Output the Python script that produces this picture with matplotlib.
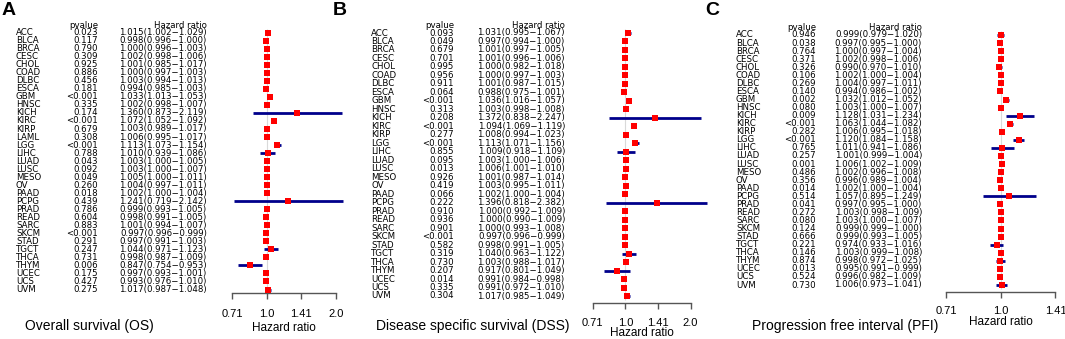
import numpy as np
import matplotlib
matplotlib.use('Agg')
import matplotlib.pyplot as plt
import matplotlib.transforms as mtransforms
from matplotlib.ticker import FixedLocator, NullLocator, FixedFormatter

plt.rcParams['font.family'] = ['Liberation Sans', 'DejaVu Sans']

# ---------------- data ----------------
os_cancers = ['ACC', 'BLCA', 'BRCA', 'CESC', 'CHOL', 'COAD', 'DLBC', 'ESCA', 'GBM', 'HNSC', 'KICH',
              'KIRC', 'KIRP', 'LAML', 'LGG', 'LIHC', 'LUAD', 'LUSC', 'MESO', 'OV', 'PAAD', 'PCPG',
              'PRAD', 'READ', 'SARC', 'SKCM', 'STAD', 'TGCT', 'THCA', 'THYM', 'UCEC', 'UCS', 'UVM']
os_pvalue = ['0.023', '0.117', '0.790', '0.309', '0.925', '0.886', '0.456', '0.181', '<0.001', '0.335',
             '0.174', '<0.001', '0.679', '0.308', '<0.001', '0.788', '0.043', '0.092', '0.049', '0.260',
             '0.018', '0.439', '0.786', '0.604', '0.883', '<0.001', '0.291', '0.247', '0.731', '0.006',
             '0.175', '0.427', '0.275']
os_hr = [1.015, 0.998, 1.000, 1.002, 1.001, 1.000, 1.003, 0.994, 1.033, 1.002, 1.360, 1.072, 1.003,
         1.006, 1.113, 1.010, 1.003, 1.003, 1.005, 1.004, 1.002, 1.241, 0.999, 0.998, 1.001, 0.997,
         0.997, 1.044, 0.998, 0.847, 0.997, 0.993, 1.017]
os_low = [1.002, 0.996, 0.996, 0.998, 0.985, 0.997, 0.994, 0.985, 1.013, 0.998, 0.873, 1.052, 0.989,
          0.995, 1.073, 0.939, 1.000, 1.000, 1.000, 0.997, 1.000, 0.719, 0.993, 0.991, 0.994, 0.996,
          0.991, 0.971, 0.987, 0.754, 0.993, 0.976, 0.987]
os_high = [1.029, 1.000, 1.003, 1.006, 1.017, 1.003, 1.013, 1.003, 1.053, 1.007, 2.119, 1.092, 1.017,
           1.017, 1.154, 1.086, 1.005, 1.007, 1.011, 1.011, 1.004, 2.142, 1.005, 1.005, 1.007, 0.999,
           1.003, 1.123, 1.009, 0.953, 1.001, 1.010, 1.048]

dss_cancers = ['ACC', 'BLCA', 'BRCA', 'CESC', 'CHOL', 'COAD', 'DLBC', 'ESCA', 'GBM', 'HNSC', 'KICH',
               'KIRC', 'KIRP', 'LGG', 'LIHC', 'LUAD', 'LUSC', 'MESO', 'OV', 'PAAD', 'PCPG',
               'PRAD', 'READ', 'SARC', 'SKCM', 'STAD', 'TGCT', 'THCA', 'THYM', 'UCEC', 'UCS', 'UVM']
dss_pvalue = ['0.093', '0.049', '0.679', '0.701', '0.995', '0.956', '0.911', '0.064', '<0.001', '0.313',
              '0.208', '<0.001', '0.277', '<0.001', '0.855', '0.095', '0.013', '0.926', '0.419', '0.066',
              '0.222', '0.910', '0.936', '0.901', '<0.001', '0.582', '0.319', '0.730', '0.207', '0.014',
              '0.335', '0.304']
dss_hr = [1.031, 0.997, 1.001, 1.001, 1.000, 1.000, 1.001, 0.988, 1.036, 1.003, 1.372, 1.094, 1.008,
          1.113, 1.009, 1.003, 1.006, 1.001, 1.003, 1.002, 1.396, 1.000, 1.000, 1.000, 0.997, 0.998,
          1.040, 1.003, 0.917, 0.991, 0.991, 1.017]
dss_low = [0.995, 0.994, 0.997, 0.996, 0.982, 0.997, 0.987, 0.975, 1.016, 0.998, 0.838, 1.069, 0.994,
           1.071, 0.918, 1.000, 1.001, 0.987, 0.995, 1.000, 0.818, 0.992, 0.990, 0.993, 0.996, 0.991,
           0.963, 0.988, 0.801, 0.984, 0.972, 0.985]
dss_high = [1.067, 1.000, 1.005, 1.006, 1.018, 1.003, 1.015, 1.001, 1.057, 1.008, 2.247, 1.119, 1.023,
            1.156, 1.109, 1.006, 1.010, 1.014, 1.011, 1.004, 2.382, 1.009, 1.009, 1.008, 0.999, 1.005,
            1.122, 1.017, 1.049, 0.998, 1.010, 1.049]

pfi_cancers = list(dss_cancers)
pfi_pvalue = ['0.946', '0.038', '0.764', '0.371', '0.326', '0.106', '0.269', '0.140', '0.002', '0.080',
              '0.009', '<0.001', '0.282', '<0.001', '0.765', '0.257', '0.001', '0.486', '0.356', '0.014',
              '0.514', '0.041', '0.272', '0.080', '0.124', '0.666', '0.221', '0.146', '0.874', '0.013',
              '0.524', '0.730']
pfi_hr = [0.999, 0.997, 1.000, 1.002, 0.990, 1.002, 1.004, 0.994, 1.032, 1.003, 1.128, 1.063, 1.006,
          1.120, 1.011, 1.001, 1.006, 1.002, 0.996, 1.002, 1.057, 0.997, 1.003, 1.003, 0.999, 0.999,
          0.974, 1.003, 0.998, 0.995, 0.996, 1.006]
pfi_low = [0.979, 0.995, 0.997, 0.998, 0.970, 1.000, 0.997, 0.986, 1.012, 1.000, 1.031, 1.044, 0.995,
           1.084, 0.941, 0.999, 1.002, 0.996, 0.989, 1.000, 0.895, 0.995, 0.998, 1.000, 0.999, 0.993,
           0.933, 0.999, 0.972, 0.991, 0.982, 0.973]
pfi_high = [1.020, 1.000, 1.004, 1.006, 1.010, 1.004, 1.011, 1.002, 1.052, 1.007, 1.234, 1.082, 1.018,
            1.158, 1.086, 1.004, 1.009, 1.008, 1.004, 1.004, 1.249, 1.000, 1.009, 1.007, 1.000, 1.005,
            1.016, 1.008, 1.025, 0.999, 1.009, 1.041]

tick_values_long = [2 ** -0.5, 1.0, 2 ** 0.5, 2.0]
tick_labels_long = ['0.71', '1.0', '1.41', '2.0']
tick_values_short = [2 ** -0.5, 1.0, 2 ** 0.5]
tick_labels_short = ['0.71', '1.0', '1.41']

# ---------------- layout ----------------
W, H = 1065, 339
fig = plt.figure(figsize=(W / 100, H / 100), dpi=100)


def fx(x):
    return x / W


def fy(y):
    return 1 - y / H


panels = [
    dict(letter='A', letter_x=2, title='Overall survival (OS)', title_x=25, title_y=326,
         cancers=os_cancers, pv=os_pvalue, hr=os_hr, lo=os_low, hi=os_high,
         name_x=16, p_x=98, hr_x=207, one_x=266.7, per=69.4,
         header_y=25, first_y=32.7, last_y=289.5, axis_y=293,
         xlog=(-0.6, 1.2), ticks=tick_values_long, tlabels=tick_labels_long, tick_y=313, label_y=328),
    dict(letter='B', letter_x=333, title='Disease specific survival (DSS)', title_x=376, title_y=326,
         cancers=dss_cancers, pv=dss_pvalue, hr=dss_hr, lo=dss_low, hi=dss_high,
         name_x=371, p_x=454, hr_x=565, one_x=625.3, per=65.2,
         header_y=25, first_y=33, last_y=296, axis_y=302.5,
         xlog=(-0.6, 1.3), ticks=tick_values_long, tlabels=tick_labels_long, tick_y=322, label_y=333),
    dict(letter='C', letter_x=705, title='Progression free interval (PFI)', title_x=752, title_y=326,
         cancers=pfi_cancers, pv=pfi_pvalue, hr=pfi_hr, lo=pfi_low, hi=pfi_high,
         name_x=736, p_x=816, hr_x=922, one_x=1000.7, per=109.5,
         header_y=28, first_y=35, last_y=285, axis_y=292,
         xlog=(-0.55, 0.55), ticks=tick_values_short, tlabels=tick_labels_short, tick_y=310, label_y=322),
]

TABLE_FONT = dict(family='DejaVu Sans', fontsize=6.2)
AXIS_COLOR = '#555555'

for p in panels:
    n = len(p['cancers'])
    sp = (p['last_y'] - p['first_y']) / (n - 1)
    rows = list(range(n))
    left = p['one_x'] + p['per'] * p['xlog'][0]
    right = p['one_x'] + p['per'] * p['xlog'][1]
    top = p['header_y']
    bottom = p['axis_y']
    ax = fig.add_axes([fx(left), fy(bottom), (right - left) / W, (bottom - top) / H])
    ax.set_xscale('log', base=2)
    ax.set_xlim(2 ** p['xlog'][0], 2 ** p['xlog'][1])
    header_row = (p['header_y'] - p['first_y']) / sp
    ax.set_ylim((p['axis_y'] - p['first_y']) / sp, header_row)
    ax.patch.set_alpha(0)
    for s in ('left', 'top', 'right'):
        ax.spines[s].set_visible(False)
    ax.spines['bottom'].set_bounds(p['ticks'][0], p['ticks'][-1])
    ax.spines['bottom'].set_color(AXIS_COLOR)
    ax.spines['bottom'].set_linewidth(1.0)
    ax.set_yticks([])
    ax.xaxis.set_major_locator(FixedLocator(p['ticks']))
    ax.xaxis.set_major_formatter(FixedFormatter(p['tlabels']))
    ax.xaxis.set_minor_locator(NullLocator())
    pad_pt = (p['tick_y'] - p['axis_y'] - 4 - 6) * 0.72
    ax.tick_params(axis='x', length=4, width=1.0, color=AXIS_COLOR, pad=pad_pt,
                   labelsize=8, labelcolor='black')

    # reference line, CIs, markers
    ax.vlines(1.0, -0.5, n - 0.5, color='#d9d9d9', lw=0.8, zorder=1)
    ax.hlines(rows, p['lo'], p['hi'], color='#00008B', lw=2.0, zorder=2)
    ax.plot(p['hr'], rows, linestyle='none', marker='s', ms=4.8, color='#FF0000',
            mec='#FF0000', mew=0, zorder=3)

    # x label
    ax.set_xlabel('Hazard ratio', fontsize=8.5)
    center = 2 ** ((np.log2(p['ticks'][0]) + np.log2(p['ticks'][-1])) / 2)
    ax.xaxis.set_label_coords(center, fy(p['label_y']),
                              transform=mtransforms.blended_transform_factory(ax.transData, fig.transFigure))
    ax.xaxis.label.set_va('center')

    # table text
    trans = mtransforms.blended_transform_factory(fig.transFigure, ax.transData)
    ax.text(fx(p['p_x']), header_row, 'pvalue', transform=trans, ha='right', va='center',
            clip_on=False, **TABLE_FONT)
    ax.text(fx(p['hr_x']), header_row, 'Hazard ratio', transform=trans, ha='right', va='center',
            clip_on=False, **TABLE_FONT)
    for i, (name, pv, h, lo, hi) in enumerate(zip(p['cancers'], p['pv'], p['hr'], p['lo'], p['hi'])):
        ax.text(fx(p['name_x']), i, name, transform=trans, ha='left', va='center',
                clip_on=False, **TABLE_FONT)
        ax.text(fx(p['p_x']), i, pv, transform=trans, ha='right', va='center',
                clip_on=False, **TABLE_FONT)
        ax.text(fx(p['hr_x']), i, f'{h:.3f}({lo:.3f}\u2212{hi:.3f})', transform=trans,
                ha='right', va='center', clip_on=False, **TABLE_FONT)

    # title and panel letter
    fig.text(fx(p['title_x']), fy(p['title_y']), p['title'], fontsize=10, ha='left', va='center')
    fig.text(fx(p['letter_x']), fy(2), p['letter'], fontsize=14, fontweight='bold',
             ha='left', va='top')

fig.savefig('out.png', dpi=100)
